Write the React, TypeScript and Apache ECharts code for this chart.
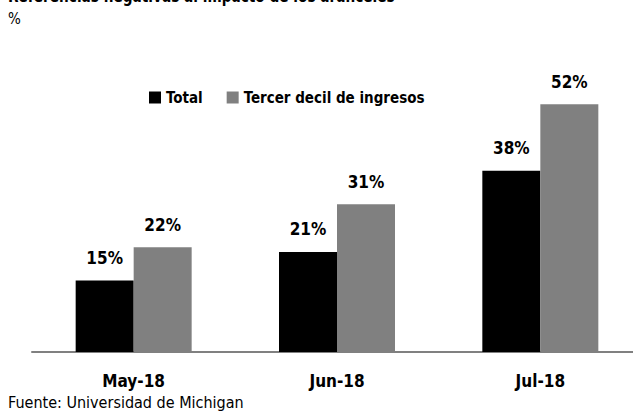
import React, { useEffect, useRef } from "react";
import * as echarts from "echarts";

const categories = ["May-18", "Jun-18", "Jul-18"];
const totalValues = [15, 21, 38];
const tercerDecilValues = [22, 31, 52];
const seriesNames = ["Total", "Tercer decil de ingresos"];
const titleText = "Referencias negativas al impacto de los aranceles";
const unitText = "%";
const sourceText = "Fuente: Universidad de Michigan";

const FONT = "'DejaVu Sans Condensed', 'Liberation Sans Narrow', 'Arial Narrow', 'Liberation Sans', Arial, sans-serif";

export default function App() {
  const ref = useRef<HTMLDivElement>(null);
  useEffect(() => {
    if (!ref.current) return;
    const chart = echarts.init(ref.current, null, { renderer: "svg" });
    const labelCfg = {
      show: true,
      position: "top",
      distance: 14,
      formatter: (p: any) => `${p.value}%`,
      fontFamily: FONT,
      fontWeight: "bold",
      fontSize: 17,
      color: "#000",
    };
    chart.setOption({
      animation: false,
      textStyle: { fontFamily: FONT },
      grid: { left: 32, width: 610, top: 66, height: 286 },
      legend: {
        data: seriesNames,
        left: 149,
        top: 90,
        padding: 0,
        icon: "rect",
        itemWidth: 12,
        itemHeight: 12,
        itemGap: 24,
        textStyle: { fontFamily: FONT, fontWeight: "bold", fontSize: 15, color: "#000" },
      },
      xAxis: {
        type: "category",
        data: categories,
        axisLine: { lineStyle: { color: "#808080", width: 2 } },
        axisTick: { show: false },
        axisLabel: { fontFamily: FONT, fontWeight: "bold", fontSize: 17, color: "#000", margin: 20 },
      },
      yAxis: { type: "value", min: 0, max: 60, show: false, splitLine: { show: false } },
      series: [
        {
          name: seriesNames[0],
          type: "bar",
          data: totalValues,
          barWidth: 58,
          barGap: "0%",
          itemStyle: { color: "#000000" },
          label: labelCfg,
        },
        {
          name: seriesNames[1],
          type: "bar",
          data: tercerDecilValues,
          barWidth: 58,
          barGap: "0%",
          itemStyle: { color: "#808080" },
          label: labelCfg,
        },
      ],
      graphic: [
        {
          type: "text",
          x: 8,
          y: -13,
          scaleX: 0.845,
          style: { text: titleText, x: 0, y: 0, fontFamily: FONT, fontWeight: "bold", fontSize: 18, fill: "#000" },
        },
        {
          type: "text",
          left: 8,
          top: 11,
          style: { text: unitText, fontFamily: FONT, fontSize: 15, fill: "#000" },
        },
        {
          type: "text",
          left: 8,
          top: 394,
          style: { text: sourceText, fontFamily: FONT, fontSize: 16, fill: "#000" },
        },
      ],
    });
    return () => chart.dispose();
  }, []);
  return (
    <div style={{ position: "fixed", left: 0, top: 0, width: 633, height: 415, overflow: "hidden", background: "#fff" }}>
      <div ref={ref} style={{ width: 650, height: 415 }} />
    </div>
  );
}
